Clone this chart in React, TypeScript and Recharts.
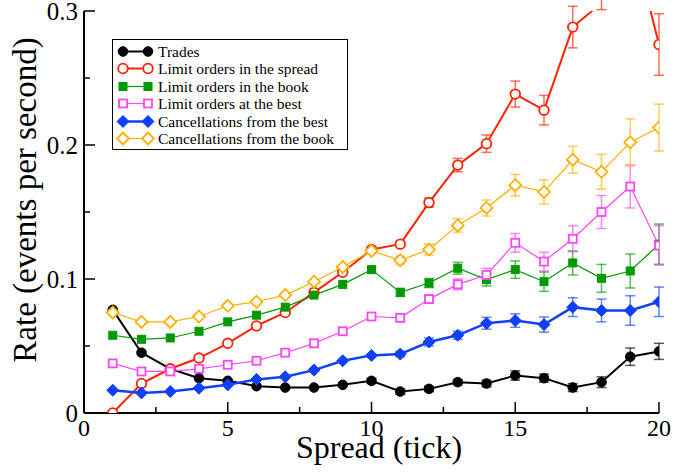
import { ComposedChart, Line, XAxis, YAxis, ErrorBar, Legend } from "recharts";

const spread = [1, 2, 3, 4, 5, 6, 7, 8, 9, 10, 11, 12, 13, 14, 15, 16, 17, 18, 19, 20];

const trades = [0.077, 0.045, 0.033, 0.026, 0.024, 0.02, 0.019, 0.019, 0.021, 0.024, 0.016, 0.018, 0.023, 0.022, 0.028, 0.026, 0.019, 0.023, 0.042, 0.046];
const tradesErr = [0, 0, 0, 0, 0, 0, 0, 0, 0, 0.002, 0.002, 0.002, 0.002, 0.0025, 0.0035, 0.003, 0.003, 0.004, 0.0065, 0.006];

const inSpread = [0, 0.022, 0.033, 0.041, 0.052, 0.065, 0.075, 0.09, 0.105, 0.122, 0.126, 0.157, 0.185, 0.201, 0.238, 0.226, 0.288, 0.306, 0.36, 0.275];
const inSpreadErr = [0, 0, 0, 0, 0, 0, 0, 0, 0, 0.002, 0.002, 0.0035, 0.005, 0.0065, 0.0097, 0.011, 0.0155, 0.005, 0.022, 0.023];

const inBook = [0.058, 0.055, 0.056, 0.061, 0.068, 0.073, 0.079, 0.088, 0.096, 0.107, 0.09, 0.097, 0.108, 0.0995, 0.107, 0.098, 0.112, 0.1005, 0.106, 0.126];
const inBookErr = [0, 0, 0, 0, 0, 0, 0, 0, 0, 0.002, 0.003, 0.0034, 0.0044, 0.0047, 0.0065, 0.0072, 0.009, 0.0104, 0.0127, 0.015];

const atBest = [0.037, 0.031, 0.031, 0.033, 0.036, 0.039, 0.045, 0.052, 0.061, 0.072, 0.071, 0.085, 0.096, 0.103, 0.127, 0.113, 0.13, 0.15, 0.169, 0.125];
const atBestErr = [0, 0, 0, 0, 0, 0, 0, 0, 0, 0, 0.002, 0.003, 0.004, 0.005, 0.007, 0.007, 0.0097, 0.0123, 0.016, 0.0147];

const cancBest = [0.017, 0.015, 0.016, 0.0185, 0.021, 0.025, 0.027, 0.032, 0.039, 0.043, 0.044, 0.053, 0.058, 0.067, 0.069, 0.066, 0.079, 0.0765, 0.0765, 0.083];
const cancBestErr = [0, 0, 0, 0, 0, 0, 0, 0, 0, 0, 0.002, 0.003, 0.003, 0.0044, 0.005, 0.0057, 0.007, 0.0085, 0.011, 0.011];

const cancBook = [0.075, 0.068, 0.068, 0.072, 0.08, 0.083, 0.088, 0.098, 0.109, 0.121, 0.114, 0.122, 0.14, 0.153, 0.17, 0.165, 0.189, 0.18, 0.202, 0.213];
const cancBookErr = [0, 0, 0, 0, 0, 0, 0, 0, 0, 0, 0.003, 0.004, 0.005, 0.006, 0.008, 0.009, 0.01, 0.013, 0.0175, 0.0175];

const xTicks = [0, 2.5, 5, 7.5, 10, 12.5, 15, 17.5, 20];
const yTicks = [0, 0.05, 0.1, 0.15, 0.2, 0.25, 0.3];
const yMajor = ["0", "0.1", "0.2", "0.3"];

const data = spread.map((s, i) => ({
  spread: s,
  trades: trades[i], tradesErr: tradesErr[i],
  inSpread: inSpread[i], inSpreadErr: inSpreadErr[i],
  inBook: inBook[i], inBookErr: inBookErr[i],
  atBest: atBest[i], atBestErr: atBestErr[i],
  cancBest: cancBest[i], cancBestErr: cancBestErr[i],
  cancBook: cancBook[i], cancBookErr: cancBookErr[i],
}));

const FONT = '"Liberation Serif", "Times New Roman", Times, serif';

type Shape = "circle" | "square" | "diamond";

function Marker({ shape, x, y, color, filled }: { shape: Shape; x: number; y: number; color: string; filled: boolean }) {
  const fill = filled ? color : "#fff";
  const sw = filled ? 1 : 1.8;
  if (shape === "circle") return <circle cx={x} cy={y} r={4.8} fill={fill} stroke={color} strokeWidth={sw} />;
  if (shape === "square") return <rect x={x - 4} y={y - 4} width={8} height={8} fill={fill} stroke={color} strokeWidth={sw} />;
  return <path d={`M${x} ${y - 6}L${x + 6} ${y}L${x} ${y + 6}L${x - 6} ${y}Z`} fill={fill} stroke={color} strokeWidth={sw} />;
}

function dotFor(shape: Shape, color: string, filled: boolean) {
  return (p: any) => {
    if (p.cx == null || p.cy == null) return <g key={p.index} />;
    return <Marker key={p.index} shape={shape} x={p.cx} y={p.cy} color={color} filled={filled} />;
  };
}

const series = [
  { key: "trades", name: "Trades", color: "#000000", shape: "circle" as Shape, filled: true, width: 2 },
  { key: "inSpread", name: "Limit orders in the spread", color: "#ff2200", shape: "circle" as Shape, filled: false, width: 2 },
  { key: "inBook", name: "Limit orders in the book", color: "#009a00", shape: "square" as Shape, filled: true, width: 1.2 },
  { key: "atBest", name: "Limit orders at the best", color: "#ff44ff", shape: "square" as Shape, filled: false, width: 1.2 },
  { key: "cancBest", name: "Cancellations from the best", color: "#1040ff", shape: "diamond" as Shape, filled: true, width: 2.5 },
  { key: "cancBook", name: "Cancellations from the book", color: "#ffb000", shape: "diamond" as Shape, filled: false, width: 1.2 },
];

const textStyle = { fontFamily: FONT, fill: "#000" };

function BottomTick(props: any) {
  const { x, y, payload } = props;
  const major = payload.value % 5 === 0;
  return (
    <g>
      <line x1={x} x2={x} y1={y} y2={y - (major ? 11 : 6)} stroke="#000" strokeWidth={1.5} />
      {major && (
        <text x={x} y={y + 23} textAnchor="middle" fontSize={24} style={textStyle}>
          {payload.value}
        </text>
      )}
    </g>
  );
}

function TopTick(props: any) {
  const { x, y, payload } = props;
  const major = payload.value % 5 === 0;
  return <line x1={x} x2={x} y1={y} y2={y + (major ? 11 : 6)} stroke="#000" strokeWidth={1.5} />;
}

function LeftTick(props: any) {
  const { x, y, payload } = props;
  const idx = Math.round(payload.value * 20);
  const major = idx % 2 === 0;
  return (
    <g>
      <line x1={x} x2={x + (major ? 11 : 6)} y1={y} y2={y} stroke="#000" strokeWidth={1.5} />
      {major && (
        <text x={x - 6} y={y + 9} textAnchor="end" fontSize={25} style={textStyle}>
          {yMajor[idx / 2]}
        </text>
      )}
    </g>
  );
}

function RightTick(props: any) {
  const { x, y, payload } = props;
  const major = Math.round(payload.value * 20) % 2 === 0;
  return <line x1={x} x2={x - (major ? 11 : 6)} y1={y} y2={y} stroke="#000" strokeWidth={1.5} />;
}

function LegendBox() {
  return (
    <div
      style={{
        position: "absolute",
        left: 112,
        top: 39,
        width: 236,
        height: 111,
        boxSizing: "border-box",
        border: "1.5px solid #000",
        background: "#fff",
        fontFamily: FONT,
        fontSize: 15.5,
        color: "#000",
      }}
    >
      {series.map((s, i) => (
        <div
          key={s.key}
          style={{ position: "absolute", left: 0, top: 3 + i * 17.4, height: 17, display: "flex", alignItems: "center", whiteSpace: "nowrap" }}
        >
          <svg width={45} height={17} style={{ display: "block" }}>
            <line x1={10} x2={35} y1={8.5} y2={8.5} stroke={s.color} strokeWidth={s.width} />
            <Marker shape={s.shape} x={10} y={8.5} color={s.color} filled={s.filled} />
            <Marker shape={s.shape} x={35} y={8.5} color={s.color} filled={s.filled} />
          </svg>
          <span style={{ lineHeight: "17px" }}>{s.name}</span>
        </div>
      ))}
    </div>
  );
}

export default function App() {
  return (
    <div style={{ position: "absolute", left: 0, top: 0, width: 687, height: 474, background: "#fff" }}>
      <ComposedChart width={687} height={474} data={data} margin={{ top: 11, right: 28, bottom: 0, left: 0 }}>
        <XAxis
          dataKey="spread"
          type="number"
          domain={[0, 20]}
          ticks={xTicks}
          interval={0}
          height={61}
          tickSize={0}
          tickMargin={0}
          tickLine={false}
          tick={<BottomTick />}
          axisLine={{ stroke: "#000", strokeWidth: 2 }}
          allowDataOverflow
        />
        <XAxis
          xAxisId="top"
          orientation="top"
          dataKey="spread"
          type="number"
          domain={[0, 20]}
          ticks={xTicks}
          interval={0}
          height={0}
          tickSize={0}
          tickMargin={0}
          tickLine={false}
          tick={<TopTick />}
          axisLine={{ stroke: "#000", strokeWidth: 2 }}
          allowDataOverflow
        />
        <YAxis
          type="number"
          domain={[0, 0.3]}
          ticks={yTicks}
          interval={0}
          width={84}
          tickSize={0}
          tickMargin={0}
          tickLine={false}
          tick={<LeftTick />}
          axisLine={{ stroke: "#000", strokeWidth: 2 }}
          allowDataOverflow
        />
        <YAxis
          yAxisId="right"
          orientation="right"
          type="number"
          domain={[0, 0.3]}
          ticks={yTicks}
          interval={0}
          width={0}
          tickSize={0}
          tickMargin={0}
          tickLine={false}
          tick={<RightTick />}
          axisLine={{ stroke: "#000", strokeWidth: 2 }}
          allowDataOverflow
        />
        <Legend content={() => <LegendBox />} wrapperStyle={{ position: "absolute", left: 0, top: 0, width: 0, height: 0 }} />
        {series.map((s) => (
          <Line
            key={s.key}
            dataKey={s.key}
            name={s.name}
            stroke={s.color}
            strokeWidth={s.width}
            dot={dotFor(s.shape, s.color, s.filled)}
            activeDot={false}
            isAnimationActive={false}
            type="linear"
          >
            <ErrorBar dataKey={`${s.key}Err`} width={5} stroke={s.color} strokeOpacity={0.65} strokeWidth={1.5} isAnimationActive={false} />
          </Line>
        ))}
      </ComposedChart>
      <svg width={687} height={474} style={{ position: "absolute", left: 0, top: 0, pointerEvents: "none" }}>
        <text x={379} y={458} textAnchor="middle" fontSize={32} style={textStyle}>
          Spread (tick)
        </text>
        <text x={36} y={200} transform="rotate(-90 36 200)" textAnchor="middle" fontSize={33} style={textStyle}>
          Rate (events per second)
        </text>
      </svg>
    </div>
  );
}
